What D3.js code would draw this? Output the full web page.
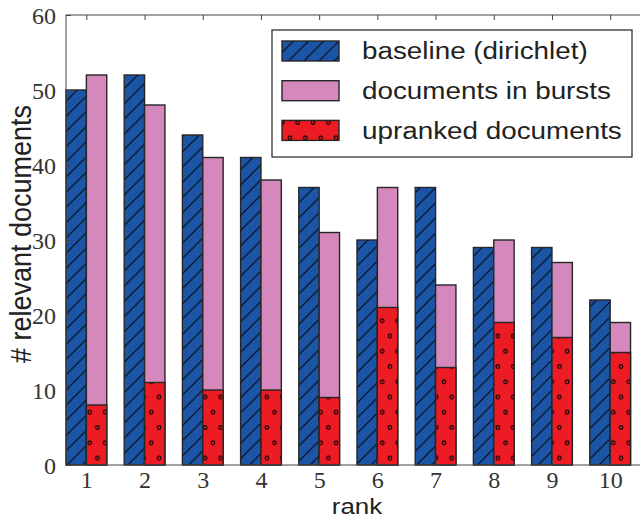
<!DOCTYPE html>
<html><head><meta charset="utf-8">
<script src="https://cdn.jsdelivr.net/npm/d3@7"></script>
<style>html,body{margin:0;padding:0;background:#fff;}svg{display:block;}</style>
</head><body>
<script>
const ranks = [1,2,3,4,5,6,7,8,9,10];
const baseline = [50,52,44,41,37,30,37,29,29,22];
const bursts = [52,48,41,38,31,37,24,30,27,19];
const upranked = [8,11,10,10,9,21,13,19,17,15];
const yTicks = [0,10,20,30,40,50,60];
const seriesNames = ["baseline (dirichlet)","documents in bursts","upranked documents"];

const W = 640, H = 518;
const blue = "#1c55a6", pink = "#d488bb", red = "#ed1c24", edge = "#262626";
const barW = 0.35;

const svg = d3.select("body").append("svg").attr("width", W).attr("height", H);
const x = d3.scaleLinear().domain([1, 11]).range([66, 648]);
const y = d3.scaleLinear().domain([0, 60]).range([465, 15]);

const defs = svg.append("defs");
const hp = defs.append("pattern").attr("id","hatch").attr("patternUnits","userSpaceOnUse")
  .attr("width",15.2).attr("height",15.2).attr("x",0).attr("y",0);
hp.append("rect").attr("width",15.2).attr("height",15.2).attr("fill",blue);
hp.append("path").attr("d","M0,15.2L15.2,0M-2,2L2,-2M13.2,17.2L17.2,13.2")
  .attr("stroke","#000").attr("stroke-width",1);

const dp = defs.append("pattern").attr("id","dots").attr("patternUnits","userSpaceOnUse")
  .attr("width",15.4).attr("height",30.5).attr("x",89.7).attr("y",412.3);
dp.append("rect").attr("width",15.4).attr("height",30.5).attr("fill",red);
[[0,0],[15.4,0],[0,30.5],[15.4,30.5],[7.7,15.25]].forEach(([cx,cy])=>{
  dp.append("circle").attr("cx",cx).attr("cy",cy).attr("r",1.8)
    .attr("fill","none").attr("stroke","#000").attr("stroke-width",1.1);
});

const g = svg.append("g");
g.selectAll(".b").data(ranks).enter().append("rect")
  .attr("x", d=>x(d)).attr("width", d=>x(d+barW)-x(d))
  .attr("y", (d,i)=>y(baseline[i])).attr("height",(d,i)=>y(0)-y(baseline[i]))
  .attr("fill","url(#hatch)").attr("stroke",edge).attr("stroke-width",1.4);
g.selectAll(".p").data(ranks).enter().append("rect")
  .attr("x", d=>x(d+barW)).attr("width", d=>x(d+2*barW)-x(d+barW))
  .attr("y", (d,i)=>y(bursts[i])).attr("height",(d,i)=>y(0)-y(bursts[i]))
  .attr("fill",pink).attr("stroke",edge).attr("stroke-width",1.4);
g.selectAll(".r").data(ranks).enter().append("rect")
  .attr("x", d=>x(d+barW)).attr("width", d=>x(d+2*barW)-x(d+barW))
  .attr("y", (d,i)=>y(upranked[i])).attr("height",(d,i)=>y(0)-y(upranked[i]))
  .attr("fill","url(#dots)").attr("stroke",edge).attr("stroke-width",1.4);

const axCol = "#444";
svg.append("rect").attr("x",x(1)).attr("y",y(60)).attr("width",x(11)-x(1)).attr("height",y(0)-y(60))
  .attr("fill","none").attr("stroke",axCol).attr("stroke-width",1);

const yAx = svg.append("g").attr("transform",`translate(${x(1)},0)`)
  .call(d3.axisLeft(y).tickValues(yTicks).tickSizeInner(-5).tickSizeOuter(0).tickPadding(10));
yAx.select(".domain").remove();
yAx.selectAll("line").attr("stroke",axCol);
yAx.selectAll("text").attr("font-family","'Liberation Serif', serif").attr("font-size",24)
  .attr("fill","#333").attr("dy","0.34em");

const xAx = svg.append("g").attr("transform",`translate(0,${y(0)})`)
  .call(d3.axisBottom(x).tickValues(ranks.map(r=>r+barW)).tickFormat((d,i)=>ranks[i])
    .tickSizeInner(-5).tickSizeOuter(0).tickPadding(6));
xAx.select(".domain").remove();
xAx.selectAll("line").attr("stroke",axCol);
xAx.selectAll("text").attr("font-family","'Liberation Serif', serif").attr("font-size",24)
  .attr("fill","#333").attr("dy","0.71em");
const xTop = svg.append("g").attr("transform",`translate(0,${y(60)})`)
  .call(d3.axisTop(x).tickValues(ranks.map(r=>r+barW)).tickFormat("")
    .tickSizeInner(-5).tickSizeOuter(0));
xTop.select(".domain").remove();
xTop.selectAll("line").attr("stroke",axCol);

svg.append("text").attr("transform",`translate(${(x(1)+x(11))/2},513.5) scale(1.08,0.9)`).attr("text-anchor","middle")
  .attr("font-family","'Liberation Sans', Arial, sans-serif").attr("font-size",24).attr("fill","#222").text("rank");
svg.append("text").attr("transform",`translate(31,234) rotate(-90) scale(0.9,1)`).attr("text-anchor","middle")
  .attr("font-family","'Liberation Sans', Arial, sans-serif").attr("font-size",30).attr("fill","#222").text("# relevant documents");

const lg = svg.append("g");
lg.append("rect").attr("x",272).attr("y",30).attr("width",360).attr("height",127)
  .attr("fill","#fff").attr("stroke","#222").attr("stroke-width",1.2);
const fills = ["url(#hatch)", pink, "url(#dots)"];
seriesNames.forEach((name,i)=>{
  const cy = 51 + i*39.7;
  lg.append("rect").attr("x",282).attr("y",cy-10).attr("width",57).attr("height",20)
    .attr("fill",fills[i]).attr("stroke",edge).attr("stroke-width",1.4);
  lg.append("text").attr("transform",`translate(362,${cy}) scale(1.21,1)`).attr("dy","0.36em")
    .attr("font-family","'Liberation Sans', Arial, sans-serif").attr("font-size",23).attr("fill","#222").text(name);
});
</script>
</body></html>
